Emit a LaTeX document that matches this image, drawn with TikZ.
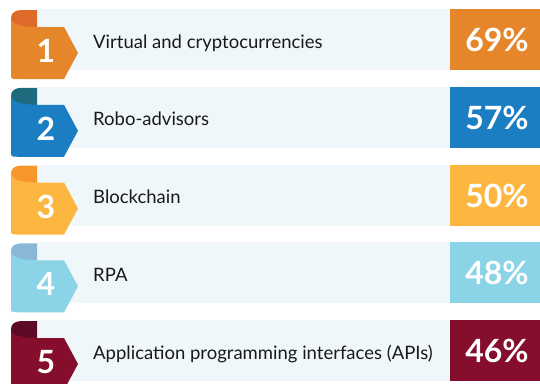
\documentclass[tikz,border=0pt]{standalone}
\usepackage{fontspec}
\setmainfont{Lato}
\definecolor{barbg}{HTML}{F0F7FA}
\definecolor{mainA}{HTML}{E5862A}
\definecolor{curlA}{HTML}{DD6A28}
\definecolor{mainB}{HTML}{1B7EC2}
\definecolor{curlB}{HTML}{1E6B7E}
\definecolor{mainC}{HTML}{FDB640}
\definecolor{curlC}{HTML}{F7962B}
\definecolor{mainD}{HTML}{8BD3E7}
\definecolor{curlD}{HTML}{8AB6D8}
\definecolor{mainE}{HTML}{850E2D}
\definecolor{curlE}{HTML}{5C0A27}
\tikzset{
  numtxt/.style={text=white,font=\fontsize{32}{32}\selectfont\bfseries,inner sep=0pt},
  lbl/.style={text=black!90,font=\fontsize{18.5}{18.5}\selectfont,inner sep=0pt},
  pcttxt/.style={text=white,font=\fontsize{32}{32}\selectfont\bfseries,inner sep=0pt},
}
\newcommand\myrow[6]{%
  \pgfmathsetmacro\t{9+77.75*(#1-1)}%
  \fill[barbg] (37,\t) rectangle (450,\t+61);
  \fill[#2] (450,\t) rectangle (540,\t+61);
  \fill[#3] (37,\t+22) -- (37,\t+1) -- (22,\t+1) .. controls (15,\t+1) and (11,\t+4) .. (11,\t+9) -- (11,\t+22) -- cycle;
  \fill[#2] (11,\t+9) .. controls (11,\t+16) and (25,\t+18) .. (37,\t+18) -- (64,\t+18) -- (78,\t+44) -- (64,\t+70) -- (17,\t+70) .. controls (11,\t+70) .. (11,\t+64) -- cycle;
  \node[numtxt] (n#1) at (46,\t+42) {#4};
  \node[lbl,anchor=base west] (l#1) at (93,\t+39) {#5};
  \node[pcttxt] (p#1) at (497,\t+31) {#6};
}
\begin{document}
\begin{tikzpicture}[x=1pt,y=-1pt]
\useasboundingbox (0,0) rectangle (540,383);
\myrow{1}{mainA}{curlA}{1}{Virtual and cryptocurrencies}{69\%}
\myrow{2}{mainB}{curlB}{2}{Robo-advisors}{57\%}
\myrow{3}{mainC}{curlC}{3}{Blockchain}{50\%}
\myrow{4}{mainD}{curlD}{4}{RPA}{48\%}
\myrow{5}{mainE}{curlE}{5}{Application programming interfaces (APIs)}{46\%}
\end{tikzpicture}
\end{document}
